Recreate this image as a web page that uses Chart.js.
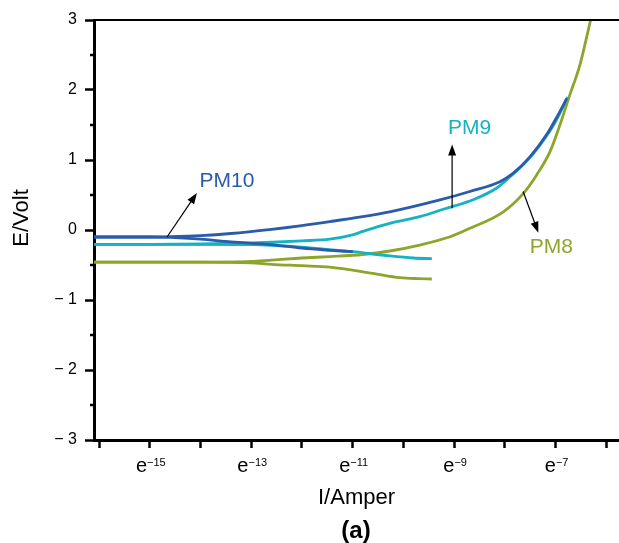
<!DOCTYPE html>
<html><head><meta charset="utf-8">
<script src="https://cdn.jsdelivr.net/npm/chart.js@4.4.1/dist/chart.umd.min.js"></script>
<style>html,body{margin:0;padding:0;background:#fff}canvas{display:block}</style>
</head><body>
<canvas id="c" width="619" height="543"></canvas>
<script>
// ---- data (x = exponent of current, I = e^x ; y = E / Volt) ----
const xLabelExponents = [-15, -13, -11, -9, -7];
const yTickValues = [-3, -2, -1, 0, 1, 2, 3];

const pm10AnodicX = [-16.1,-15.0,-14.6,-14.0,-13.4,-12.6,-12.04,-11.45,-10.27,-9.28,-8.69,-8.10,-7.84,-7.51,-7.17,-6.97,-6.78];
const pm10AnodicE = [-0.10,-0.10,-0.095,-0.08,-0.05,0.01,0.06,0.12,0.26,0.43,0.55,0.69,0.81,1.04,1.37,1.62,1.88];
const pm10CathodicX = [-16.1,-15.0,-14.6,-14.0,-13.4,-12.6,-12.0,-11.45,-11.0];
const pm10CathodicE = [-0.10,-0.10,-0.105,-0.13,-0.17,-0.21,-0.26,-0.29,-0.31];

const pm9AnodicX = [-16.1,-15.0,-14.0,-13.0,-12.6,-12.0,-11.45,-11.0,-10.8,-10.27,-9.68,-9.2,-8.6,-8.16,-7.90,-7.6,-7.3,-7.0,-6.76];
const pm9AnodicE = [-0.205,-0.205,-0.20,-0.185,-0.175,-0.155,-0.13,-0.07,-0.02,0.095,0.19,0.30,0.44,0.60,0.76,0.96,1.22,1.55,1.90];
const pm9CathodicX = [-16.1,-14.0,-13.0,-12.6,-12.0,-11.45,-11.0,-10.27,-9.8,-9.44];
const pm9CathodicE = [-0.205,-0.205,-0.21,-0.22,-0.245,-0.28,-0.31,-0.37,-0.40,-0.41];

const pm8AnodicX = [-16.1,-14.0,-13.0,-12.6,-12.0,-11.45,-10.8,-10.27,-9.68,-9.08,-8.69,-8.03,-7.64,-7.37,-7.11,-6.915,-6.72,-6.52,-6.31];
const pm8AnodicE = [-0.46,-0.46,-0.45,-0.43,-0.40,-0.38,-0.35,-0.30,-0.215,-0.096,0.024,0.26,0.52,0.79,1.12,1.5,1.93,2.36,3.0];
const pm8CathodicX = [-16.1,-14.0,-13.0,-12.6,-12.0,-11.45,-10.6,-10.07,-9.7,-9.44];
const pm8CathodicE = [-0.46,-0.46,-0.47,-0.49,-0.51,-0.53,-0.62,-0.68,-0.695,-0.70];

// ---- styling ----
const BLUE = '#2a5ca9', CYAN = '#16b2c3', GREEN = '#8ca62b';
const FONT = '"Liberation Sans", Arial, Helvetica, sans-serif';

const toPts = (xs, ys) => xs.map((x, i) => ({x, y: ys[i]}));
const ds = (label, xs, ys, color) => ({
  label, data: toPts(xs, ys), borderColor: color, backgroundColor: color,
  borderWidth: 2.8, pointRadius: 0, showLine: true, fill: false,
  cubicInterpolationMode: 'monotone', borderCapStyle: 'butt'
});

// annotation labels with arrows (in data coordinates)
const annotations = [
  {text: 'PM10', color: BLUE, tx: -14.02, ty: 0.70, from: [-14.66, -0.10], to: [-14.07, 0.53]},
  {text: 'PM9',  color: CYAN, tx: -9.12,  ty: 1.45, from: [-9.04, 0.31],   to: [-9.04, 1.22]},
  {text: 'PM8',  color: GREEN, tx: -7.51, ty: -0.245, from: [-7.64, 0.55], to: [-7.34, -0.04]}
];

const decor = {
  id: 'decor',
  afterDraw(chart) {
    const ctx = chart.ctx, ca = chart.chartArea;
    const xs = chart.scales.x, ys = chart.scales.y;
    ctx.save();
    // top frame line
    ctx.strokeStyle = '#000'; ctx.lineWidth = 2;
    ctx.beginPath(); ctx.moveTo(ca.left, ca.top); ctx.lineTo(ca.right, ca.top); ctx.stroke();
    // minor y ticks
    ctx.lineWidth = 2.5;
    for (let v = -2.5; v < 3; v += 1) {
      const py = ys.getPixelForValue(v);
      ctx.beginPath(); ctx.moveTo(ca.left - 4, py); ctx.lineTo(ca.left, py); ctx.stroke();
    }
    // x tick labels e^n
    ctx.fillStyle = '#000'; ctx.textBaseline = 'alphabetic'; ctx.textAlign = 'left';
    xLabelExponents.forEach(n => {
      const px = xs.getPixelForValue(n);
      const sup = '\u2212' + Math.abs(n);
      ctx.font = '20px ' + FONT; const w1 = ctx.measureText('e').width;
      ctx.font = '11px ' + FONT; const w2 = ctx.measureText(sup).width;
      const x0 = px - (w1 + w2) / 2 + 1;
      ctx.font = '20px ' + FONT; ctx.fillText('e', x0, 472);
      ctx.font = '11px ' + FONT; ctx.fillText(sup, x0 + w1, 466);
    });
    // y axis title
    ctx.save();
    ctx.translate(22, 218); ctx.rotate(-Math.PI / 2);
    ctx.font = '22px ' + FONT; ctx.textAlign = 'center'; ctx.textBaseline = 'middle';
    ctx.fillText('E/Volt', 0, 0);
    ctx.restore();
    // panel label
    ctx.font = 'bold 24px ' + FONT; ctx.textAlign = 'center'; ctx.textBaseline = 'middle';
    ctx.fillText('(a)', 356, 531);
    // annotations
    annotations.forEach(a => {
      const x1 = xs.getPixelForValue(a.from[0]), y1 = ys.getPixelForValue(a.from[1]);
      const x2 = xs.getPixelForValue(a.to[0]), y2 = ys.getPixelForValue(a.to[1]);
      const ang = Math.atan2(y2 - y1, x2 - x1);
      const hl = 11, hw = 4;
      ctx.strokeStyle = '#000'; ctx.fillStyle = '#000'; ctx.lineWidth = 1.2;
      ctx.beginPath(); ctx.moveTo(x1, y1);
      ctx.lineTo(x2 - Math.cos(ang) * hl * 0.8, y2 - Math.sin(ang) * hl * 0.8); ctx.stroke();
      ctx.beginPath();
      ctx.moveTo(x2, y2);
      ctx.lineTo(x2 - Math.cos(ang) * hl - Math.sin(ang) * hw, y2 - Math.sin(ang) * hl + Math.cos(ang) * hw);
      ctx.lineTo(x2 - Math.cos(ang) * hl + Math.sin(ang) * hw, y2 - Math.sin(ang) * hl - Math.cos(ang) * hw);
      ctx.closePath(); ctx.fill();
      ctx.font = '21px ' + FONT; ctx.fillStyle = a.color;
      ctx.textAlign = 'left'; ctx.textBaseline = 'middle';
      ctx.fillText(a.text, xs.getPixelForValue(a.tx), ys.getPixelForValue(a.ty));
    });
    ctx.restore();
  }
};

new Chart(document.getElementById('c'), {
  type: 'scatter',
  data: {
    datasets: [
      ds('PM10', pm10AnodicX, pm10AnodicE, BLUE),
      ds('PM10', pm10CathodicX, pm10CathodicE, BLUE),
      ds('PM9', pm9AnodicX, pm9AnodicE, CYAN),
      ds('PM9', pm9CathodicX, pm9CathodicE, CYAN),
      ds('PM8', pm8AnodicX, pm8AnodicE, GREEN),
      ds('PM8', pm8CathodicX, pm8CathodicE, GREEN)
    ]
  },
  options: {
    responsive: false, animation: false, devicePixelRatio: 1,
    layout: {padding: {top: 20, right: 0, left: 0, bottom: 0}},
    plugins: {legend: {display: false}, tooltip: {enabled: false}, title: {display: false}},
    scales: {
      x: {
        type: 'linear', min: -16.1, max: -5.75,
        afterFit: s => { s.height = 103; },
        ticks: {stepSize: 1, includeBounds: false, callback: () => '', font: {size: 1}},
        grid: {drawOnChartArea: false, drawTicks: true, tickLength: 8, tickWidth: 2.5, tickColor: '#000'},
        border: {display: true, color: '#000', width: 3},
        title: {display: true, text: 'I/Amper', color: '#000', font: {family: FONT, size: 22}, padding: {top: 0, bottom: 32}}
      },
      y: {
        type: 'linear', min: -3, max: 3,
        afterFit: s => { s.width = 94; },
        afterBuildTicks: s => { s.ticks = yTickValues.map(v => ({value: v})); },
        ticks: {color: '#000', padding: 8, font: {family: FONT, size: 16},
          callback: v => v < 0 ? '\u2212 ' + Math.abs(v) : String(v)},
        grid: {drawOnChartArea: false, drawTicks: true, tickLength: 9, tickWidth: 2.5, tickColor: '#000'},
        border: {display: true, color: '#000', width: 3}
      }
    }
  },
  plugins: [decor]
});
</script>
</body></html>
